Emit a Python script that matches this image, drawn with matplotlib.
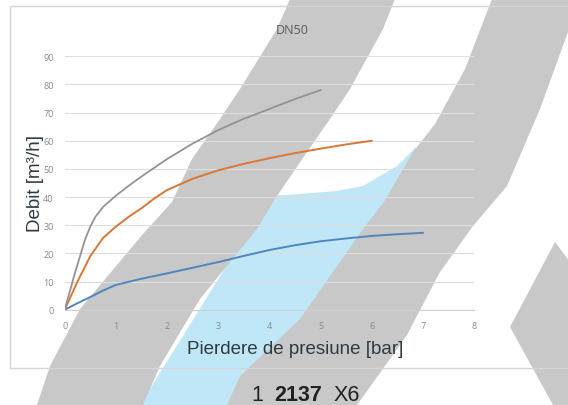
import matplotlib.pyplot as plt
from matplotlib.patches import Polygon, Rectangle

W, H = 568, 406

# data (pressure loss [bar] -> flow [m3/h])
p_grey = [0, 0.2, 0.4, 0.5, 0.6, 0.75, 1, 1.25, 1.5, 2, 2.5, 3, 3.5, 4, 4.5, 5]
q_grey = [0, 13, 25, 29.5, 33, 36.5, 40.5, 44, 47.3, 53.5, 59, 63.8, 67.8, 71.3, 74.8, 78]
p_orange = [0, 0.25, 0.5, 0.75, 1, 1.25, 1.5, 1.75, 2, 2.5, 3, 3.5, 4, 4.5, 5, 5.5, 6]
q_orange = [0, 10, 19, 25.5, 29.5, 33, 36, 39.5, 42.5, 46.5, 49.5, 51.8, 53.8, 55.6, 57.2, 58.7, 60]
p_blue = [0, 0.25, 0.5, 0.75, 1, 1.5, 2, 2.5, 3, 3.5, 4, 4.5, 5, 5.5, 6, 6.5, 7]
q_blue = [0, 2.3, 4.5, 6.8, 8.8, 11, 12.9, 14.9, 16.9, 19.1, 21.2, 22.9, 24.3, 25.3, 26.2, 26.8, 27.3]

xticks = list(range(0, 9))
yticks = list(range(0, 91, 10))

# watermark shapes behind the chart, in pixel coords (x right, y down)
band1 = [(290, 0), (277, 30), (240, 90), (220, 120), (192, 160), (172, 203), (143, 235),
         (80, 310), (50, 367), (37, 406), (143, 406), (160, 367), (200, 300), (257, 230),
         (275, 200), (307, 153), (330, 120), (350, 90), (383, 30), (395, 0)]
band2 = [(492, 0), (465, 70), (435, 125), (413, 153), (384, 203), (363, 230), (300, 320),
         (240, 377), (227, 406), (357, 406), (407, 336), (440, 273), (473, 227), (507, 187),
         (540, 110), (568, 33), (600, 0)]
band3 = [(570, 263), (555, 243), (510, 328), (553, 406), (570, 406)]
blue_zone = [(270, 197), (300, 195), (337, 192), (363, 187), (397, 167), (416, 148),
             (420, 160), (240, 406), (140, 406)]


def to_fig(pts):
    return [(x / W, 1 - y / H) for x, y in pts]


plt.rcParams['font.family'] = ['Liberation Sans', 'DejaVu Sans']

fig = plt.figure(figsize=(W / 100, H / 100), dpi=100)
fig.patch.set_facecolor('white')

fig.add_artist(Polygon(to_fig(blue_zone), closed=True, transform=fig.transFigure,
                       facecolor='#bfe7f7', edgecolor='none', zorder=-3))
for b in (band1, band2, band3):
    fig.add_artist(Polygon(to_fig(b), closed=True, transform=fig.transFigure,
                           facecolor='#c8c8c8', edgecolor='none', zorder=-2))

# chart frame
fig.add_artist(Rectangle((10 / W, 1 - 369 / H), 0.99, (369 - 7) / H, transform=fig.transFigure,
                         fill=False, edgecolor='#d4d4d4', lw=1, zorder=-1))

ax = fig.add_axes([64.7 / W, 1 - 310.7 / H, (474 - 64.7) / W, (310.7 - 57.3) / H])
ax.patch.set_alpha(0)

ax.plot(p_blue, q_blue, color='#4f86c0', lw=1.4, zorder=3)
ax.plot(p_orange, q_orange, color='#dc7634', lw=1.4, zorder=3)
ax.plot(p_grey, q_grey, color='#939393', lw=1.3, zorder=3)

ax.set_xlim(0, 8)
ax.set_ylim(0, 90)
ax.set_xticks(xticks)
ax.set_yticks(yticks)
ax.grid(axis='y', color='#dedede', lw=0.8)
ax.set_axisbelow(True)
for s in ['top', 'right', 'left']:
    ax.spines[s].set_visible(False)
ax.spines['bottom'].set_color('#cfcfcf')
ax.tick_params(length=0, labelsize=6.5, colors='#8a8a8a')
ax.tick_params(axis='x', pad=8)
ax.tick_params(axis='y', pad=8)
for lab in ax.get_xticklabels() + ax.get_yticklabels():
    lab.set_family('Open Sans')

fig.text(292 / W, 1 - 31 / H, 'DN50', ha='center', va='center', fontsize=9,
         color='#5a5a5a', family='Open Sans')
fig.text(295 / W, 1 - 350 / H, 'Pierdere de presiune [bar]', ha='center', va='center',
         fontsize=13.5, color='#2e3a40')
fig.text(35 / W, 1 - 184 / H, 'Debit [m³/h]', ha='center', va='center', rotation=90,
         fontsize=13.5, color='#2e3a40')

fig.text(251 / W, 1 - 401 / H, '1', ha='left', va='baseline', fontsize=15.5, color='#222222')
fig.text(274 / W, 1 - 401 / H, '2137', ha='left', va='baseline', fontsize=15.5,
         fontweight='bold', color='#222222')
fig.text(334 / W, 1 - 401 / H, 'X6', ha='left', va='baseline', fontsize=15.5, color='#222222')

fig.savefig('out.png', dpi=100)
